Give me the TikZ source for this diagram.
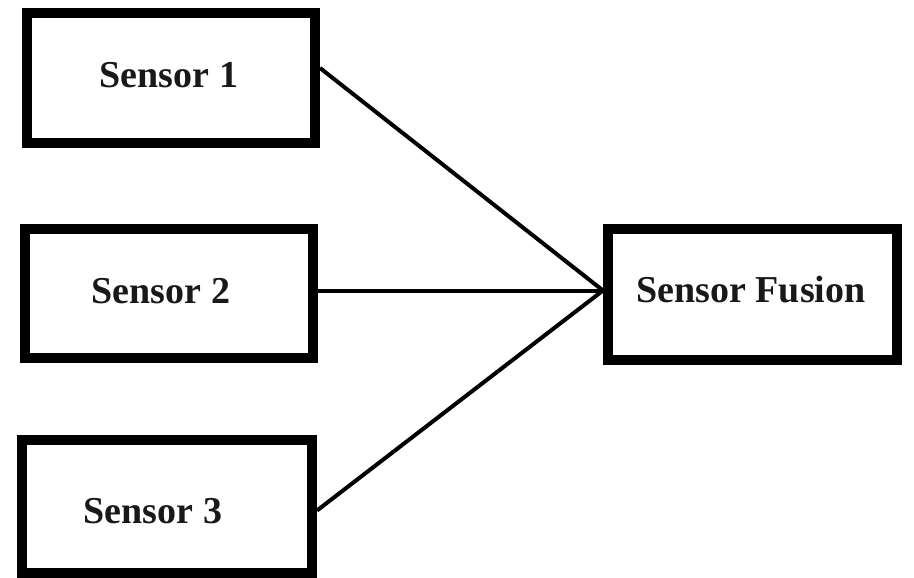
\documentclass[tikz,border=0pt]{standalone}
\usepackage{fontspec}
\setmainfont{Liberation Serif}
\begin{document}
\begin{tikzpicture}[x=1pt,y=-1pt,
  blockbox/.style={draw=black, line width=10pt, fill=white, inner sep=0pt, rectangle},
  blocklabel/.style={font=\fontsize{38}{40}\selectfont\bfseries, inner sep=0pt, anchor=base, text=black!90},
  wire/.style={draw=black, line width=4pt}]
  % canvas
  \path[fill=white] (0,0) rectangle (914,578);
  \useasboundingbox (0,0) rectangle (914,578);

  % blocks
  \node[blockbox, minimum width=288pt, minimum height=130pt] (s1) at (171,78) {};
  \node[blockbox, minimum width=288pt, minimum height=129pt] (s2) at (169,293.5) {};
  \node[blockbox, minimum width=290pt, minimum height=133pt] (s3) at (167,506.5) {};
  \node[blockbox, minimum width=289pt, minimum height=131pt] (f) at (752.5,294.5) {};

  % labels
  \node[blocklabel] (t1) at (169,88) {Sensor 1};
  \node[blocklabel] (t2) at (161,303) {Sensor 2};
  \node[blocklabel] (t3) at (153,523) {Sensor 3};
  \node[blocklabel] (tf) at (751,302) {Sensor Fusion};

  % connectors into the fusion block
  \coordinate (join) at ([yshift=4pt]f.west);
  \draw[wire] ([yshift=10pt]s1.east) -- (join);
  \draw[wire] ([yshift=3pt]s2.east) -- (join);
  \draw[wire] ([yshift=-4pt]s3.east) -- (join);
\end{tikzpicture}
\end{document}
